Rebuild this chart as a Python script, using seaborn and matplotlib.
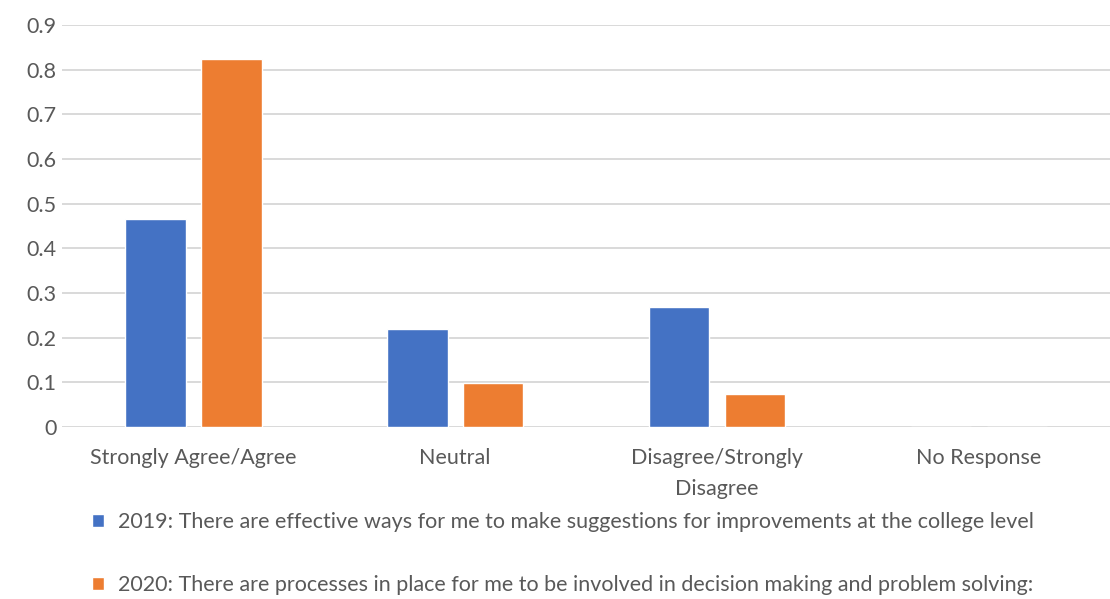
import pandas as pd
import matplotlib.pyplot as plt
import seaborn as sns

categories = ['Strongly Agree/Agree', 'Neutral', 'Disagree/Strongly\nDisagree', 'No Response']
values_2019 = [0.466, 0.219, 0.269, 0.0]
values_2020 = [0.824, 0.099, 0.073, 0.0]
series_labels = ['2019: There are effective ways for me to make suggestions for improvements at the college level',
                 '2020: There are processes in place for me to be involved in decision making and problem solving:']

df = pd.DataFrame({
    'category': categories * 2,
    'value': values_2019 + values_2020,
    'series': [series_labels[0]] * 4 + [series_labels[1]] * 4,
})

sns.set_style('white')
plt.rcParams['font.family'] = ['Lato', 'DejaVu Sans']
fs = 15.5

fig = plt.figure(figsize=(11.1, 5.99), dpi=100)
ax = fig.add_axes([0.056, 0.287, 0.944, 0.671])

sns.barplot(data=df, x='category', y='value', hue='series', order=categories,
            hue_order=series_labels, palette=['#4472C4', '#ED7D31'], saturation=1,
            width=0.58, gap=0.2, ax=ax, legend=True, zorder=3)

ax.set_ylim(0, 0.9)
ax.set_xlim(-0.5, 3.5)
ax.set_yticks([i / 10 for i in range(10)])
ax.set_yticklabels(['0'] + [f'{i / 10:.1f}' for i in range(1, 10)])
ax.grid(axis='y', color='#d9d9d9', linewidth=1.4, zorder=0)
ax.set_axisbelow(True)
for s in ax.spines.values():
    s.set_visible(False)
ax.tick_params(axis='both', length=0, labelsize=fs, labelcolor='#595959')
ax.tick_params(axis='y', pad=4)
ax.tick_params(axis='x', pad=15)
for lbl in ax.get_xticklabels():
    lbl.set_linespacing(1.7)
ax.set_xlabel('')
ax.set_ylabel('')

handles, labels = ax.get_legend_handles_labels()
ax.get_legend().remove()
fig.legend(handles, labels, loc='upper left', bbox_to_anchor=(0.083, 0.145),
           frameon=False, fontsize=fs, labelcolor='#595959',
           handlelength=0.55, handleheight=0.55, handletextpad=0.65,
           labelspacing=1.98, borderaxespad=0, borderpad=0)

plt.savefig('out.png', dpi=100)
